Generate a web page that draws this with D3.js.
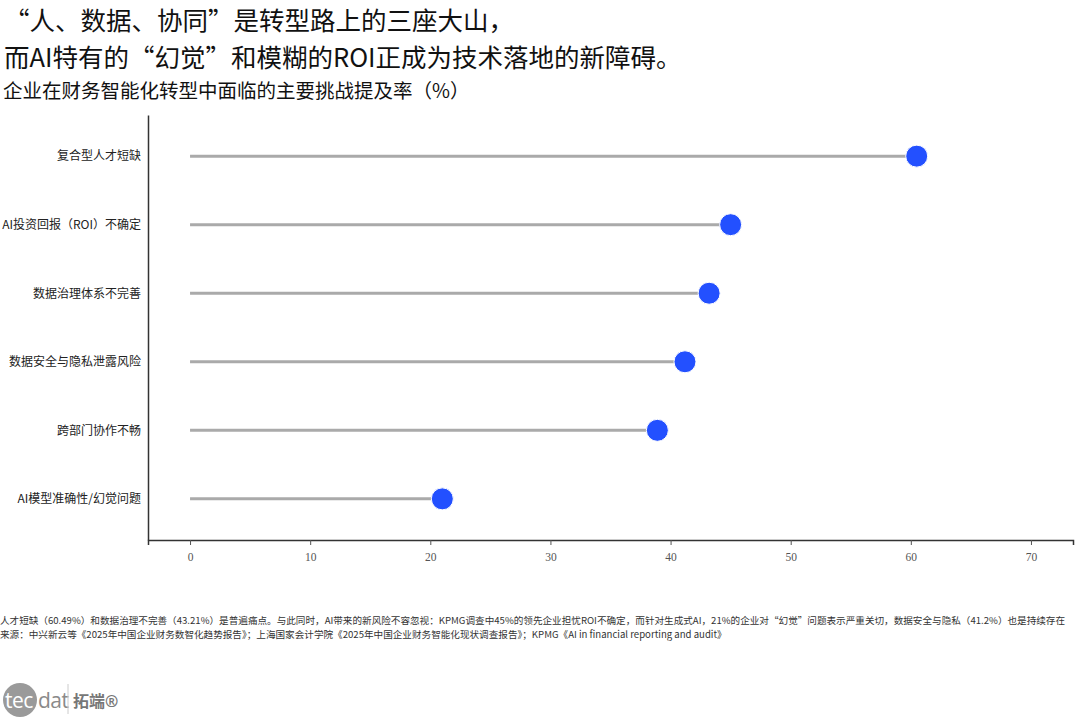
<!DOCTYPE html>
<html><head><meta charset="utf-8">
<script src="https://cdn.jsdelivr.net/npm/d3@7"></script>
<style>
body{margin:0;background:#fff;}
svg{font-family:"Noto Sans CJK SC","Liberation Serif",serif;}
</style></head>
<body><svg id="c" width="1080" height="720"></svg>
<script>
const categories = ["复合型人才短缺","AI投资回报（ROI）不确定","数据治理体系不完善","数据安全与隐私泄露风险","跨部门协作不畅","AI模型准确性/幻觉问题"];
const values = [60.49, 45, 43.21, 41.2, 38.9, 21];
const xTicks = [0,10,20,30,40,50,60,70];
const titleLines = ["“人、数据、协同”是转型路上的三座大山，","而AI特有的“幻觉”和模糊的ROI正成为技术落地的新障碍。"];
const subtitle = "企业在财务智能化转型中面临的主要挑战提及率（%）";
const notes = ["人才短缺（60.49%）和数据治理不完善（43.21%）是普遍痛点。与此同时，AI带来的新风险不容忽视：KPMG调查中45%的领先企业担忧ROI不确定，而针对生成式AI，21%的企业对“幻觉”问题表示严重关切，数据安全与隐私（41.2%）也是持续存在",
"来源：中兴新云等《2025年中国企业财务数智化趋势报告》；上海国家会计学院《2025年中国企业财务智能化现状调查报告》；KPMG《AI in financial reporting and audit》"];

const svg = d3.select("#c");
svg.selectAll("text.title").data(titleLines).join("text").attr("class","title")
  .attr("x",4).attr("y",(d,i)=>30+i*37).attr("font-size",25.5).attr("fill","#111").text(d=>d);
svg.append("text").attr("x",3).attr("y",98).attr("font-size",19.5).attr("fill","#111").text(subtitle);

const x = d3.scaleLinear().domain([-3.5,73.5]).range([148,1073]);
const y = d3.scalePoint().domain(categories).range([115,540]).padding(0.6);

// axes
const xa = svg.append("g").attr("transform","translate(0,540)")
  .call(d3.axisBottom(x).tickValues(xTicks).tickSize(5).tickPadding(8));
xa.select(".domain").attr("stroke","#333").attr("stroke-width",1.5);
xa.selectAll(".tick line").attr("stroke","#555");
xa.selectAll(".tick text").attr("font-size",11.5).attr("fill","#555").attr("font-family","Liberation Serif, serif");

const ya = svg.append("g").attr("transform","translate(148,0)")
  .call(d3.axisLeft(y).tickSize(0).tickPadding(7));
ya.select(".domain").attr("stroke","#333").attr("stroke-width",1.5);
ya.selectAll(".tick text").attr("font-size",12).attr("fill","#222").attr("font-family","Noto Sans CJK SC, sans-serif");

const data = categories.map((c,i)=>({c,v:values[i]}));
svg.selectAll("line.stem").data(data).join("line").attr("class","stem")
  .attr("x1",x(0)).attr("x2",d=>x(d.v)).attr("y1",d=>y(d.c)).attr("y2",d=>y(d.c))
  .attr("stroke","#aaa").attr("stroke-width",3);
svg.selectAll("circle.dot").data(data).join("circle").attr("class","dot")
  .attr("cx",d=>x(d.v)).attr("cy",d=>y(d.c)).attr("r",11)
  .attr("fill","#2350ff").attr("stroke","#fff").attr("stroke-width",1);

svg.selectAll("text.note").data(notes).join("text").attr("class","note")
  .attr("x",0).attr("y",(d,i)=>624+i*14).attr("font-size",9.6).attr("fill","#333").text(d=>d);

// logo
const lg = svg.append("g").attr("font-family","Open Sans, Noto Sans CJK SC, sans-serif");
lg.append("circle").attr("cx",20).attr("cy",700).attr("r",17).attr("fill","#9a9a9a");
lg.append("text").attr("x",5).attr("y",708).attr("font-size",21).attr("fill","#fff").attr("letter-spacing",-0.5).text("tec");
lg.append("text").attr("x",38).attr("y",708).attr("font-size",21).attr("fill","#8a8a8a").attr("letter-spacing",-0.5).text("dat");
lg.append("line").attr("x1",68).attr("x2",68).attr("y1",684).attr("y2",714).attr("stroke","#ccc");
lg.append("text").attr("x",73).attr("y",707).attr("font-size",16).attr("font-weight","bold").attr("fill","#777").text("拓端®");
</script></body></html>
